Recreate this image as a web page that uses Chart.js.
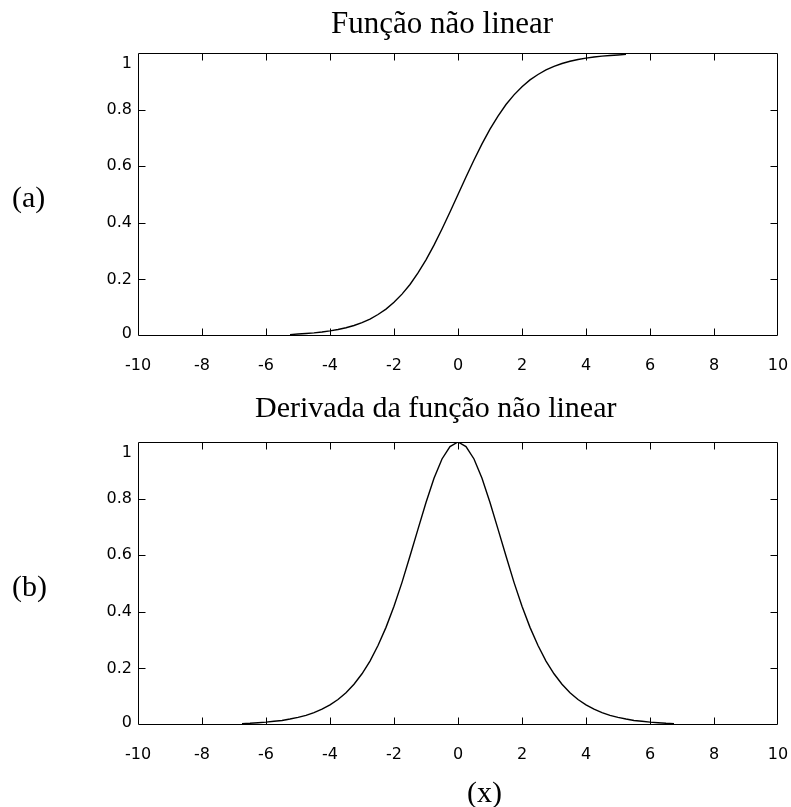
<!DOCTYPE html>
<html>
<head>
<meta charset="utf-8">
<script src="https://cdn.jsdelivr.net/npm/chart.js@4.4.1/dist/chart.umd.min.js"></script>
<style>
  html, body { margin: 0; padding: 0; background: #fff; }
  #fig { position: relative; width: 791px; height: 807px; overflow: hidden; }
  #fig canvas { position: absolute; left: 0; }
  .txt {
    position: absolute; font-family: "Liberation Serif", "Times New Roman", serif;
    font-size: 30px; line-height: 30px; color: #000; white-space: nowrap;
  }
</style>
</head>
<body>
<div id="fig">
  <canvas id="sigmoideChart" width="791" height="380" style="top:0px;"></canvas>
  <canvas id="derivadaChart" width="791" height="420" style="top:380px;"></canvas>
  <div class="txt" style="left:331px; top:8px; font-size:31px;">Função não linear</div>
  <div class="txt" style="left:12px; top:182px;">(a)</div>
  <div class="txt" style="left:255px; top:392px;">Derivada da função não linear</div>
  <div class="txt" style="left:12px; top:571px;">(b)</div>
  <div class="txt" style="left:467px; top:777px;">(x)</div>
</div>

<script>
// funcao nao linear (a)
const xFuncao = [-5.25, -5, -4.75, -4.5, -4.25, -4, -3.75, -3.5, -3.25, -3, -2.75, -2.5, -2.25, -2, -1.75, -1.5, -1.25, -1, -0.75, -0.5, -0.25,
  0, 0.25, 0.5, 0.75, 1, 1.25, 1.5, 1.75, 2, 2.25, 2.5, 2.75, 3, 3.25, 3.5, 3.75, 4, 4.25, 4.5, 4.75, 5, 5.25];
const yFuncao = [0.005, 0.007, 0.009, 0.011, 0.014, 0.018, 0.023, 0.029, 0.037, 0.047, 0.060, 0.076, 0.095, 0.119, 0.148, 0.182, 0.223, 0.269, 0.321, 0.378, 0.438,
  0.500, 0.562, 0.622, 0.679, 0.731, 0.777, 0.818, 0.852, 0.881, 0.905, 0.924, 0.940, 0.953, 0.963, 0.971, 0.977, 0.982, 0.986, 0.989, 0.991, 0.993, 0.995];

// derivada (b)
const xDerivada = [-6.75, -6.5, -6.25, -6, -5.75, -5.5, -5.25, -5, -4.75, -4.5, -4.25, -4, -3.75, -3.5, -3.25, -3, -2.75, -2.5, -2.25, -2, -1.75, -1.5, -1.25, -1, -0.75, -0.5, -0.25,
  0, 0.25, 0.5, 0.75, 1, 1.25, 1.5, 1.75, 2, 2.25, 2.5, 2.75, 3, 3.25, 3.5, 3.75, 4, 4.25, 4.5, 4.75, 5, 5.25, 5.5, 5.75, 6, 6.25, 6.5, 6.75];
const yDerivada = [0.005, 0.006, 0.008, 0.010, 0.013, 0.016, 0.021, 0.027, 0.034, 0.044, 0.056, 0.071, 0.090, 0.114, 0.144, 0.181, 0.226, 0.281, 0.345, 0.420, 0.504, 0.597, 0.692, 0.786, 0.872, 0.940, 0.984,
  1.000, 0.984, 0.940, 0.872, 0.786, 0.692, 0.597, 0.504, 0.420, 0.345, 0.281, 0.226, 0.181, 0.144, 0.114, 0.090, 0.071, 0.056, 0.044, 0.034, 0.027, 0.021, 0.016, 0.013, 0.010, 0.008, 0.006, 0.005];

// ticks dos eixos
const ticksX = [-10, -8, -6, -4, -2, 0, 2, 4, 6, 8, 10];
const ticksY = [0, 0.2, 0.4, 0.6, 0.8, 1];

const FAMILIA_EIXO = '"DejaVu Sans", Verdana, sans-serif';
const FONTE_EIXO = '16px ' + FAMILIA_EIXO;

// caixa estilo matlab com ticks para dentro + rotulos do eixo y
const caixaEixos = {
  id: 'caixaEixos',
  afterDraw(chart) {
    const { ctx, chartArea: a, scales: { x, y } } = chart;
    const L = Math.round(a.left) + 0.5, R = Math.round(a.right) - 0.5;
    const T = Math.round(a.top) + 0.5, B = Math.round(a.bottom) - 0.5;
    const tam = 7;
    ctx.save();
    ctx.strokeStyle = '#000';
    ctx.lineWidth = 1;
    ctx.beginPath();
    ctx.rect(L, T, R - L, B - T);
    ticksX.forEach(v => {
      const px = Math.round(x.getPixelForValue(v)) + 0.5;
      if (px <= L + 1 || px >= R - 1) return;
      ctx.moveTo(px, B); ctx.lineTo(px, B - tam);
      ctx.moveTo(px, T); ctx.lineTo(px, T + tam);
    });
    ticksY.forEach(v => {
      const py = Math.round(y.getPixelForValue(v)) + 0.5;
      if (py <= T + 1 || py >= B - 1) return;
      ctx.moveTo(L, py); ctx.lineTo(L + tam, py);
      ctx.moveTo(R, py); ctx.lineTo(R - tam, py);
    });
    ctx.stroke();

    ctx.fillStyle = '#000';
    ctx.font = FONTE_EIXO;
    ctx.textAlign = 'right';
    ctx.textBaseline = 'middle';
    ticksY.forEach(v => {
      let py = y.getPixelForValue(v);
      if (v === 1) py += 11;
      if (v === 0) py -= 2;
      ctx.fillText(String(v), a.left - 6, py);
    });
    ctx.restore();
  }
};

function criarGrafico(id, xs, ys, caixa) {
  return new Chart(document.getElementById(id), {
    type: 'line',
    data: {
      datasets: [{
        data: xs.map((v, i) => ({ x: v, y: ys[i] })),
        borderColor: '#000',
        borderWidth: 1.4,
        pointRadius: 0,
        tension: 0,
        fill: false
      }]
    },
    options: {
      responsive: false,
      animation: false,
      events: [],
      layout: { padding: { top: caixa.topo, right: 13, left: 0, bottom: 0 } },
      plugins: { legend: { display: false }, tooltip: { enabled: false } },
      scales: {
        x: {
          type: 'linear',
          min: -10,
          max: 10,
          grid: { display: false },
          border: { display: false },
          afterBuildTicks: scale => { scale.ticks = ticksX.map(v => ({ value: v })); },
          afterFit: scale => {
            scale.height = caixa.alturaEixo;
            scale.paddingLeft = 0;
            scale.paddingRight = 0;
          },
          ticks: {
            color: '#000',
            font: { family: FAMILIA_EIXO, size: 16 },
            padding: 12,
            maxRotation: 0,
            autoSkip: false
          }
        },
        y: {
          type: 'linear',
          min: 0,
          max: 1,
          grid: { display: false },
          border: { display: false },
          ticks: { display: false },
          afterFit: scale => {
            scale.width = 138;
            scale.paddingTop = 0;
            scale.paddingBottom = 0;
          }
        }
      }
    },
    plugins: [caixaEixos]
  });
}

document.addEventListener("DOMContentLoaded", () => {
  // area do grafico: x 138-778, y 53-336 (a) e 442-725 (b)
  criarGrafico("sigmoideChart", xFuncao, yFuncao, { topo: 53, alturaEixo: 380 - 336 });
  criarGrafico("derivadaChart", xDerivada, yDerivada, { topo: 62, alturaEixo: 420 - 345 });
});
</script>
</body>
</html>
